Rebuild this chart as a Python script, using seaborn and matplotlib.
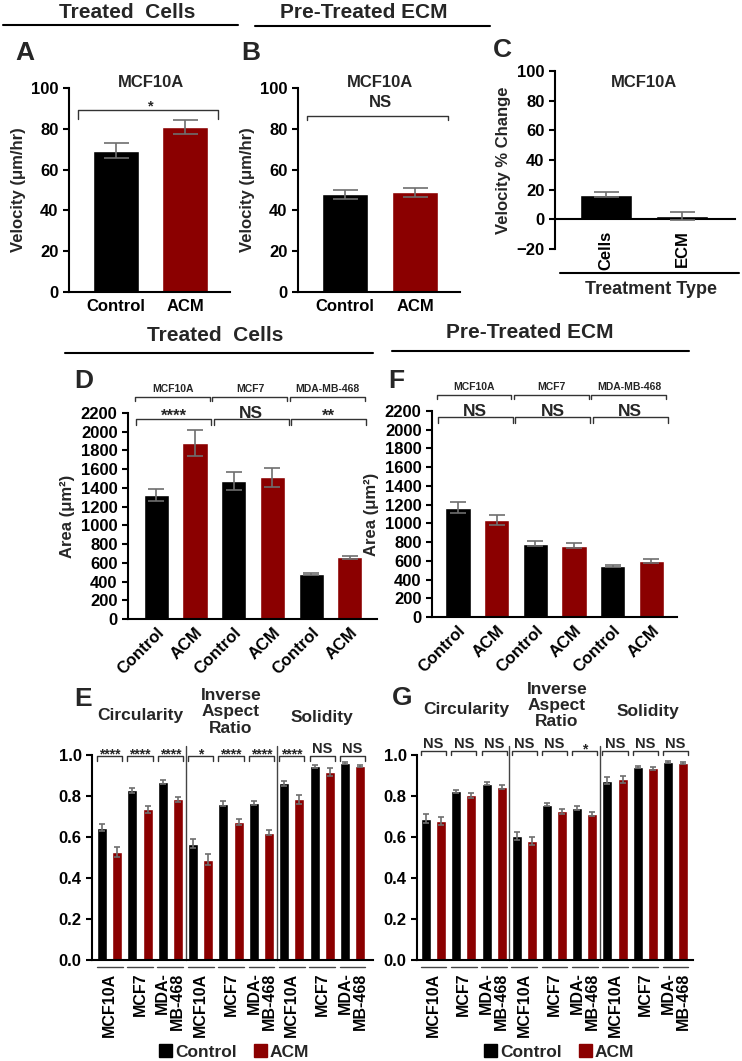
import numpy as np
import pandas as pd
import matplotlib
matplotlib.use('Agg')
import matplotlib.pyplot as plt
from matplotlib.lines import Line2D
from matplotlib.patches import Patch
import seaborn as sns

W, H = 742, 1061
CTRL_COLOR = '#000000'
ACM_COLOR = '#8b0000'
ERR_COLOR = '#6e6e6e'
LINE_COLOR = '#333333'
PALETTE = {'Control': CTRL_COLOR, 'ACM': ACM_COLOR}

# --- data (means +/- SEM) ---
CONDITIONS = ['Control', 'ACM']
A_VELOCITY = [69.3, 80.9]
A_SEM = [3.7, 3.6]
B_VELOCITY = [47.8, 48.8]
B_SEM = [2.4, 2.4]
C_TREATMENT = ['Cells', 'ECM']
C_PCT_CHANGE = [16.7, 2.2]
C_SEM = [1.7, 2.7]

CELL_LINES = ['MCF10A', 'MCF7', 'MDA-MB-468']
D_CTRL = [1324, 1474, 477]
D_ACM = [1876, 1513, 659]
D_CTRL_SEM = [64, 98, 12]
D_ACM_SEM = [139, 98, 18]
D_SIG = ['****', 'NS', '**']
F_CTRL = [1167, 783, 548]
F_ACM = [1036, 762, 601]
F_CTRL_SEM = [60, 27, 10]
F_ACM_SEM = [55, 25, 23]
F_SIG = ['NS', 'NS', 'NS']

METRICS = ['Circularity', 'Inverse\nAspect\nRatio', 'Solidity']
SHAPE_TICKS = ['MCF10A', 'MCF7', 'MDA-\nMB-468'] * 3
# order: circularity (3 lines), inverse aspect ratio (3), solidity (3)
E_CTRL = [0.645, 0.828, 0.868, 0.568, 0.763, 0.766, 0.862, 0.946, 0.962]
E_ACM = [0.527, 0.735, 0.784, 0.490, 0.673, 0.620, 0.785, 0.919, 0.948]
E_CTRL_SEM = [0.018, 0.013, 0.008, 0.020, 0.013, 0.010, 0.012, 0.007, 0.005]
E_ACM_SEM = [0.024, 0.018, 0.012, 0.025, 0.016, 0.012, 0.022, 0.020, 0.005]
E_SIG = ['****', '****', '****', '*', '****', '****', '****', 'NS', 'NS']
G_CTRL = [0.690, 0.823, 0.860, 0.605, 0.758, 0.742, 0.875, 0.943, 0.964]
G_ACM = [0.678, 0.803, 0.844, 0.581, 0.725, 0.711, 0.881, 0.935, 0.959]
G_CTRL_SEM = [0.020, 0.008, 0.006, 0.020, 0.008, 0.011, 0.016, 0.005, 0.005]
G_ACM_SEM = [0.021, 0.013, 0.008, 0.021, 0.011, 0.010, 0.016, 0.008, 0.005]
G_SIG = ['NS', 'NS', 'NS', 'NS', 'NS', '*', 'NS', 'NS', 'NS']

sns.set_style('ticks')
plt.rcParams['font.family'] = ['Liberation Sans', 'DejaVu Sans']
plt.rcParams.update({
    'font.weight': 'bold', 'axes.labelweight': 'bold', 'font.size': 12,
    'axes.linewidth': 1.5, 'xtick.major.width': 1.5, 'ytick.major.width': 1.5,
    'xtick.major.size': 4, 'ytick.major.size': 4,
    'xtick.color': 'black', 'ytick.color': 'black', 'axes.edgecolor': 'black',
    'xtick.labelsize': 12, 'ytick.labelsize': 12, 'axes.labelsize': 12,
})

fig = plt.figure(figsize=(W / 100, H / 100), dpi=100)


def px_axes(left, top, right, bottom):
    return fig.add_axes([left / W, 1 - bottom / H, (right - left) / W, (bottom - top) / H])


def fig_text(x, y, s, **kw):
    fig.text(x / W, 1 - y / H, s, ha='center', va='center', **kw)


def fig_line(x0, x1, y, lw=1.5):
    fig.add_artist(Line2D([x0 / W, x1 / W], [1 - y / H, 1 - y / H], color='black', lw=lw))


def grouped(ctrl, acm):
    return [v for pair in zip(ctrl, acm) for v in pair]


def draw_bars(ax, ids, conds, vals, errs, width, capsize):
    df = pd.DataFrame({'bar': ids, 'cond': conds, 'val': vals})
    sns.barplot(data=df, x='bar', y='val', hue='cond', palette=PALETTE, dodge=False,
                width=width, saturation=1, legend=False, errorbar=None, ax=ax)
    ax.errorbar(np.arange(len(vals)), vals, yerr=errs, fmt='none', ecolor=ERR_COLOR,
                elinewidth=1.2, capsize=capsize, capthick=1.2, zorder=3)
    sns.despine(ax=ax)
    ax.set_xlabel('')
    ax.set_ylabel('')


def bracket(ax, x0, x1, y, h, lw=1.0):
    ax.plot([x0, x0, x1, x1], [y - h, y, y, y - h], color=LINE_COLOR, lw=lw, clip_on=False)


# ---------------- headers ----------------
fig_text(127, 12, 'Treated  Cells', fontsize=15, fontweight='bold')
fig_line(3, 238, 25)
fig_text(364, 12, 'Pre-Treated ECM', fontsize=15, fontweight='bold')
fig_line(255, 490, 26)
fig_text(215, 335, 'Treated  Cells', fontsize=15, fontweight='bold')
fig_line(65, 373, 353)
fig_text(530, 332, 'Pre-Treated ECM', fontsize=15, fontweight='bold')
fig_line(392, 689, 351)
for letter, x, y in [('A', 25, 53), ('B', 251, 53), ('C', 502, 50), ('D', 84, 381),
                     ('F', 396, 381), ('E', 83, 699), ('G', 402, 698)]:
    fig_text(x, y, letter, fontsize=19, fontweight='bold')

# ---------------- A / B ----------------
for box, vals, errs, label, sig, br, h, sig_y in [
        ((69, 88, 230, 292), A_VELOCITY, A_SEM, 'A', '*', 89, 4, 89),
        ((298, 88, 460, 292), B_VELOCITY, B_SEM, 'B', 'NS', 86.3, 1.8, 90.7)]:
    ax = px_axes(*box)
    draw_bars(ax, [f'{label}-{c}' for c in CONDITIONS], CONDITIONS, vals, errs, 0.66, 9)
    ax.set_xlim(-0.67, 1.64)
    ax.set_ylim(0, 100)
    ax.set_yticks(range(0, 101, 20))
    ax.set_xticks([0, 1])
    ax.set_xticklabels(CONDITIONS)
    ax.tick_params(axis='x', length=0, pad=5)
    ax.set_ylabel('Velocity (μm/hr)')
    ax.text(0.5, 100.3, 'MCF10A', ha='center', va='baseline', clip_on=False)
    bracket(ax, -0.54, 1.47, br, h)
    ax.text(0.5, sig_y, sig, ha='center', va='baseline', fontsize=10.5 if sig == '*' else 12)

# ---------------- C ----------------
ax = px_axes(555, 71, 735, 249)
draw_bars(ax, C_TREATMENT, ['Control', 'Control'], C_PCT_CHANGE, C_SEM, 0.68, 9)
ax.set_xlim(-0.67, 1.69)
ax.set_ylim(-20, 100)
ax.set_yticks(range(-20, 101, 20))
ax.spines['bottom'].set_position(('data', 0))
ax.set_xticks([0, 1])
ax.set_xticklabels(C_TREATMENT, rotation=90, va='top', ha='center')
ax.tick_params(axis='x', length=0, pad=8)
ax.set_ylabel('Velocity % Change')
ax.text(0.5, 92, 'MCF10A', ha='center', va='center')
fig_line(560, 739, 273)
fig_text(651, 289, 'Treatment Type', fontsize=13, fontweight='bold')

# ---------------- D / F ----------------
for box, ctrl, acm, csem, asem, sig, xlim, y0px in [
        ((128, 413, 377, 619), D_CTRL, D_ACM, D_CTRL_SEM, D_ACM_SEM, D_SIG, (-0.73, 5.70), 619),
        ((432, 411, 677, 617), F_CTRL, F_ACM, F_CTRL_SEM, F_ACM_SEM, F_SIG, (-0.67, 5.66), 617)]:
    ax = px_axes(*box)
    ids = [f'{c}|{t}' for c in CELL_LINES for t in CONDITIONS]
    draw_bars(ax, ids, CONDITIONS * 3, grouped(ctrl, acm), grouped(csem, asem), 0.65, 6)
    ax.set_xlim(*xlim)
    ax.set_ylim(0, 2200)
    ax.set_yticks(range(0, 2201, 200))
    ax.set_xticks(range(6))
    ax.set_xticklabels(CONDITIONS * 3, rotation=45, ha='right', va='top', rotation_mode='anchor')
    ax.tick_params(axis='x', length=0, pad=4)
    ax.set_ylabel('Area (μm²)')
    for g, cell in enumerate(CELL_LINES):
        bracket(ax, 2 * g - 0.55, 2 * g + 1.38, 2375, 48)
        ax.text(2 * g + 0.42, 2424, cell, ha='center', va='baseline', fontsize=7.5)
        bracket(ax, 2 * g - 0.52, 2 * g + 1.42, 2133, 58)
        if sig[g] == 'NS':
            ax.text(2 * g + 0.45, 2150, 'NS', ha='center', va='baseline', fontsize=12.5)
        else:
            ax.text(2 * g + 0.45, 2112, sig[g], ha='center', va='baseline', fontsize=12)


# ---------------- E / G ----------------
def shape_panel(box, ctrl, acm, csem, asem, sig, xlim, br_y, br_h, ns_y, head_y, head_dx, legend_x):
    ax = px_axes(*box)
    n = len(ctrl)
    ids = [f'{i}|{c}' for i in range(n) for c in CONDITIONS]
    draw_bars(ax, ids, CONDITIONS * n, grouped(ctrl, acm), grouped(csem, asem), 0.66, 2.5)
    ax.set_xlim(*xlim)
    ax.set_ylim(0, 1.0)
    ax.set_yticks(np.arange(0, 1.01, 0.2))
    ax.yaxis.set_major_formatter('{x:.1f}')
    ax.set_xticks(np.arange(n) * 2 + 0.5)
    ax.set_xticklabels(SHAPE_TICKS, rotation=90, va='top', ha='center', fontsize=11.5)
    for lbl in ax.get_xticklabels():
        lbl.set_multialignment('right')
        lbl.set_linespacing(1.0)
    ax.tick_params(axis='x', length=0, pad=9)
    trans = ax.get_xaxis_transform()
    for g in range(n):
        ax.plot([2 * g - 0.35, 2 * g + 1.35], [-0.034, -0.034], transform=trans,
                color='#444444', lw=1, clip_on=False)
        bracket(ax, 2 * g - 0.33, 2 * g + 1.33, br_y, br_h)
        if sig[g] == 'NS':
            ax.text(2 * g + 0.5, ns_y, 'NS', ha='center', va='baseline', fontsize=10.5)
        else:
            ax.text(2 * g + 0.5, ns_y - 0.026, sig[g], ha='center', va='baseline', fontsize=10)
    for xs in (5.5, 11.5):
        ax.plot([xs, xs], [0, 1.045], color='#444444', lw=1, clip_on=False)
    for m, name in enumerate(METRICS):
        ax.text(6 * m + 2.5 + head_dx, head_y[m], name, ha='center', va='center',
                fontsize=12.5, linespacing=1.1, clip_on=False)
    handles = [Patch(color=CTRL_COLOR, label='Control'), Patch(color=ACM_COLOR, label='ACM')]
    fig.legend(handles=handles, loc='center', bbox_to_anchor=(legend_x / W, 1 - 1052 / H),
               ncol=2, frameon=False, handlelength=0.75, handleheight=0.75,
               handletextpad=0.15, columnspacing=1.0, prop={'weight': 'bold', 'size': 12.5})
    return ax


shape_panel((92, 755, 373, 960), E_CTRL, E_ACM, E_CTRL_SEM, E_ACM_SEM, E_SIG, (-0.66, 17.85),
            0.995, 0.023, 1.01, [1.195, 1.21, 1.185], 0.0, 234)
shape_panel((417, 755, 693, 960), G_CTRL, G_ACM, G_CTRL_SEM, G_ACM_SEM, G_SIG, (-0.6, 17.66),
            1.021, 0.021, 1.034, [1.22, 1.24, 1.21], 0.15, 559)

fig.savefig('out.png', dpi=100)
